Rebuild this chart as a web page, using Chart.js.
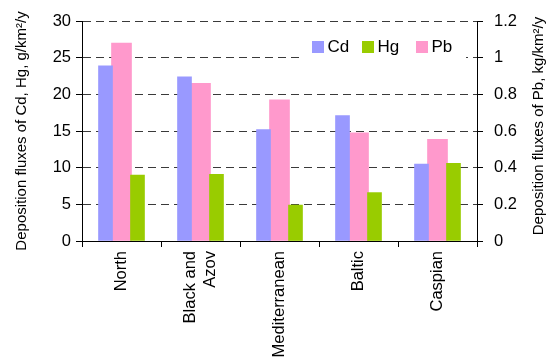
<!DOCTYPE html>
<html>
<head>
<meta charset="utf-8">
<script src="https://cdn.jsdelivr.net/npm/chart.js@4/dist/chart.umd.min.js"></script>
<style>
  html, body { margin: 0; padding: 0; background: #fff; }
  #wrap { width: 547px; height: 358px; }
</style>
</head>
<body>
<div id="wrap"><canvas id="chart" width="547" height="358"></canvas></div>
<script>
// Sea regions
const regions = ['North', ['Black and', 'Azov'], 'Mediterranean', 'Baltic', 'Caspian'];
// Deposition fluxes: Cd and Hg in g/km2/y, Pb in kg/km2/y
const cdFlux = [23.9, 22.4, 15.2, 17.1, 10.5];
const hgFlux = [9.0, 9.1, 4.9, 6.6, 10.6];
const pbFlux = [1.08, 0.86, 0.77, 0.59, 0.555];

const leftTitle = 'Deposition fluxes of Cd, Hg, g/km\u00B2/y';
const rightTitle = 'Deposition fluxes of Pb, kg/km\u00B2/y';

// Cd and Hg sit either side of each category centre, Pb in the middle
const SIDE_SHIFT = 0.2025;   // fraction of a category
const n = regions.length;
const atIndex = vals => vals.map((v, i) => ({ x: i, y: v }));

const FONT = '"Liberation Sans", Arial, sans-serif';
Chart.defaults.color = '#000';
Chart.defaults.font.family = FONT;

// Legend inside the plot with a white backing, rotated category labels, right-hand title
const decorations = {
  id: 'decorations',
  beforeDatasetsDraw(chart) {
    const ctx = chart.ctx;
    ctx.save();
    ctx.fillStyle = '#fff';
    ctx.fillRect(303, 31, 163, 31);
    const xs = [312, 362, 416];
    ctx.font = '17px ' + FONT;
    ctx.textBaseline = 'middle';
    ctx.textAlign = 'left';
    chart.data.datasets.forEach((ds, i) => {
      ctx.fillStyle = ds.backgroundColor;
      ctx.fillRect(xs[i], 41, 12, 12);
      ctx.fillStyle = '#000';
      ctx.fillText(ds.label, xs[i] + 15.5, 47.5);
    });
    ctx.restore();
  },
  afterDraw(chart) {
    const ctx = chart.ctx;
    const a = chart.chartArea;
    const xs = chart.scales.x;
    ctx.save();
    ctx.fillStyle = '#000';
    // category labels, reading upward, ending just below the axis
    ctx.font = '16.5px ' + FONT;
    ctx.textAlign = 'right';
    ctx.textBaseline = 'middle';
    const lineH = 20.5;
    chart.data.labels.forEach((lab, i) => {
      const lines = Array.isArray(lab) ? lab : [lab];
      const cx = xs.getPixelForTick(i);
      lines.forEach((t, j) => {
        const off = (j - (lines.length - 1) / 2) * lineH;
        ctx.save();
        ctx.translate(cx + off, a.bottom + 10);
        ctx.rotate(-Math.PI / 2);
        ctx.fillText(t, 0, 0);
        ctx.restore();
      });
    });
    // right axis title
    ctx.translate(539, (a.top + a.bottom) / 2 - 5);
    ctx.rotate(-Math.PI / 2);
    ctx.font = '15px ' + FONT;
    ctx.textAlign = 'center';
    ctx.textBaseline = 'middle';
    ctx.fillText(rightTitle, 0, 0);
    ctx.restore();
  }
};

// hidden index axes used to place the side bars
const sideAxis = shift => ({
  type: 'linear',
  position: 'bottom',
  display: false,
  offset: false,
  grid: { offset: false },
  min: -0.5 + shift,
  max: n - 0.5 + shift
});

new Chart(document.getElementById('chart'), {
  type: 'bar',
  data: {
    labels: regions,
    datasets: [
      { label: 'Cd', data: atIndex(cdFlux), backgroundColor: '#9999FF', xAxisID: 'xCd', yAxisID: 'y',
        grouped: false, barThickness: 14 },
      { label: 'Hg', data: atIndex(hgFlux), backgroundColor: '#99CC00', xAxisID: 'xHg', yAxisID: 'y',
        grouped: false, barThickness: 14 },
      { label: 'Pb', data: pbFlux, backgroundColor: '#FF99CC', xAxisID: 'x', yAxisID: 'y2',
        grouped: false, barThickness: 20 }
    ]
  },
  options: {
    responsive: false,
    animation: false,
    layout: { padding: { top: 21, left: 0, right: 0, bottom: 0 } },
    plugins: { legend: { display: false }, tooltip: { enabled: false } },
    scales: {
      x: {
        type: 'category',
        position: 'bottom',
        offset: true,
        grid: { drawOnChartArea: false, color: '#000', tickLength: 6, offset: true },
        border: { display: true, color: '#000', width: 1 },
        ticks: { display: false, autoSkip: false },
        afterFit(s) { s.height = 117; }
      },
      xCd: sideAxis(SIDE_SHIFT),
      xHg: sideAxis(-SIDE_SHIFT),
      y: {
        position: 'left',
        min: 0, max: 30,
        ticks: { stepSize: 5, font: { size: 16.5 }, padding: 5 },
        grid: { color: '#3a3a3a', tickColor: '#000', tickLength: 6, tickBorderDash: [] },
        border: { display: true, color: '#000', width: 1, dash: [8, 5] },
        title: { display: true, text: leftTitle, font: { size: 15 }, padding: { top: 13, bottom: 0 } },
        afterFit(s) { s.width = 82; }
      },
      y2: {
        position: 'right',
        min: 0, max: 1.2,
        ticks: { stepSize: 0.2, font: { size: 16.5 }, padding: 11,
          callback: v => String(Number(v.toFixed(1))) },
        grid: { drawOnChartArea: false, color: '#000', tickLength: 6 },
        border: { display: true, color: '#000', width: 1 },
        afterFit(s) { s.width = 70; }
      }
    }
  },
  plugins: [decorations]
});
</script>
</body>
</html>
